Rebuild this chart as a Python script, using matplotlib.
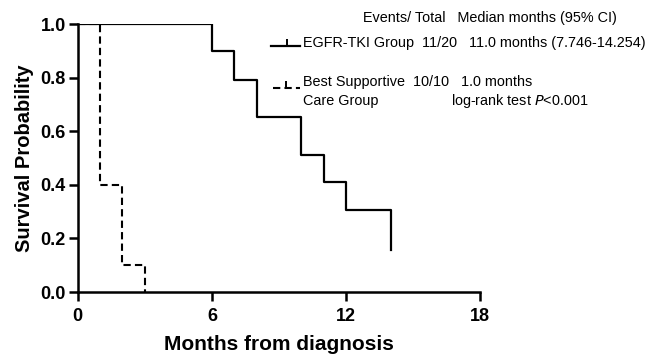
import matplotlib
matplotlib.use('Agg')
import matplotlib.pyplot as plt
from matplotlib.lines import Line2D

plt.rcParams['font.family'] = ['Liberation Sans', 'DejaVu Sans']

# Kaplan-Meier steps
egfr_t = [0, 6, 7, 8, 10, 11, 12, 14]
egfr_s = [1.0, 0.9, 0.79, 0.655, 0.51, 0.41, 0.306, 0.157]
bsc_t = [0, 1, 2, 3]
bsc_s = [1.0, 0.4, 0.1, 0.0]

xticks = [0, 6, 12, 18]
yticks = [0.0, 0.2, 0.4, 0.6, 0.8, 1.0]

fig = plt.figure(figsize=(6.48, 3.54), dpi=100)
ax = fig.add_axes([0.120, 0.175, 0.621, 0.757])

DASH = (0, (3.5, 2))
ax.step(bsc_t, bsc_s, where='post', color='black', lw=1.5,
        linestyle=DASH, zorder=2)
ax.step(egfr_t, egfr_s, where='post', color='black', lw=1.6, zorder=3)

ax.set_xlim(0, 18)
ax.set_ylim(0, 1.0)
ax.set_xticks(xticks)
ax.set_yticks(yticks)
ax.set_xticklabels([str(t) for t in xticks])
ax.set_yticklabels([f'{t:.1f}' for t in yticks])
for s in ['top', 'right']:
    ax.spines[s].set_visible(False)
for s in ['left', 'bottom']:
    ax.spines[s].set_linewidth(1.8)
ax.tick_params(direction='out', width=1.8, length=6.5, labelsize=13, pad=2)
ax.tick_params(axis='x', pad=5)
for lab in ax.get_xticklabels() + ax.get_yticklabels():
    lab.set_fontweight('bold')
ax.set_xlabel('Months from diagnosis', fontsize=15, fontweight='bold', labelpad=7)
ax.set_ylabel('Survival Probability', fontsize=14.5, fontweight='bold', labelpad=5)

# ── legend block (drawn by hand, figure pixel fractions) ──
W, H = 648, 354
def fx(px): return px / W
def fy(py): return 1 - py / H

fig.add_artist(Line2D([fx(271), fx(300)], [fy(46), fy(46)], color='black', lw=1.6))
fig.add_artist(Line2D([fx(287)], [fy(46)], marker=2, ms=5, mew=1.4, color='black'))
fig.add_artist(Line2D([fx(273), fx(300)], [fy(88), fy(88)], color='black', lw=1.5,
                      linestyle=DASH))
fig.add_artist(Line2D([fx(286)], [fy(88)], marker=2, ms=5, mew=1.4, color='black'))

fs = 10.4
fig.text(fx(363), fy(18), 'Events/ Total   Median months (95% CI)', fontsize=fs, va='center')
fig.text(fx(303), fy(43), 'EGFR-TKI Group  11/20   11.0 months (7.746-14.254)',
         fontsize=fs, va='center')
fig.text(fx(303), fy(82), 'Best Supportive  10/10   1.0 months', fontsize=fs, va='center')
fig.text(fx(303), fy(101), 'Care Group', fontsize=fs, va='center')
fig.text(fx(451), fy(101), 'log-rank test $P$<0.001', fontsize=fs, va='center')

fig.savefig('out.png', dpi=100)
